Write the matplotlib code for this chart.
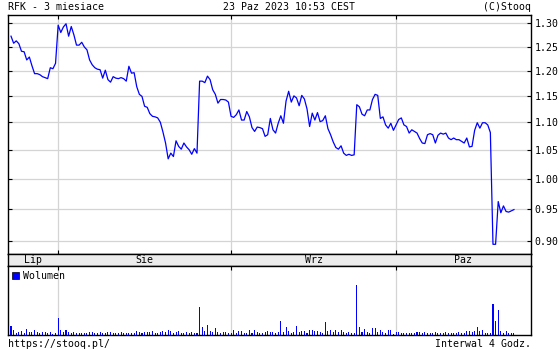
import matplotlib
matplotlib.use('Agg')
import matplotlib.pyplot as plt
import matplotlib.ticker as mtick
from matplotlib.patches import Patch
import numpy as np
import pandas as pd

# RFK, 3 bars per session day (4h interval), 24 Jul - 23 Oct 2023
first_day = '2023-07-24'
last_day = '2023-10-23'
holidays = ['2023-08-15']
bar_hours = [9, 13, 17]

close = [
    1.272, 1.257, 1.262, 1.256, 1.240, 1.239, 1.222, 1.228, 1.210, 1.194,
    1.194, 1.192, 1.188, 1.186, 1.184, 1.206, 1.204, 1.215, 1.296, 1.280,
    1.292, 1.299, 1.272, 1.293, 1.275, 1.253, 1.253, 1.259, 1.249, 1.243,
    1.222, 1.212, 1.206, 1.203, 1.202, 1.185, 1.201, 1.182, 1.177, 1.188,
    1.185, 1.184, 1.186, 1.184, 1.179, 1.209, 1.195, 1.196, 1.168, 1.153,
    1.149, 1.130, 1.128, 1.116, 1.111, 1.110, 1.108, 1.100, 1.082, 1.062,
    1.034, 1.044, 1.038, 1.066, 1.056, 1.051, 1.062, 1.055, 1.050, 1.042,
    1.052, 1.044, 1.179, 1.179, 1.176, 1.189, 1.182, 1.162, 1.153, 1.136,
    1.143, 1.143, 1.142, 1.138, 1.111, 1.109, 1.114, 1.123, 1.104, 1.104,
    1.120, 1.110, 1.090, 1.083, 1.091, 1.090, 1.088, 1.074, 1.077, 1.107,
    1.086, 1.080, 1.098, 1.112, 1.098, 1.140, 1.159, 1.138, 1.150, 1.146,
    1.131, 1.151, 1.144, 1.125, 1.092, 1.117, 1.104, 1.118, 1.101, 1.103,
    1.112, 1.088, 1.077, 1.064, 1.054, 1.051, 1.057, 1.044, 1.040, 1.042,
    1.040, 1.041, 1.133, 1.129, 1.115, 1.112, 1.123, 1.123, 1.143, 1.153,
    1.151, 1.107, 1.110, 1.095, 1.089, 1.098, 1.085, 1.095, 1.105, 1.108,
    1.095, 1.092, 1.080, 1.086, 1.083, 1.080, 1.070, 1.062, 1.061, 1.077,
    1.079, 1.077, 1.062, 1.076, 1.080, 1.078, 1.080, 1.071, 1.068, 1.071,
    1.068, 1.068, 1.065, 1.062, 1.071, 1.055, 1.056, 1.085, 1.099, 1.089,
    1.099, 1.099, 1.095, 1.081, 0.895, 0.895, 0.962, 0.944, 0.955, 0.946,
    0.945, 0.947, 0.949,
]

# volume, thousands
volume = [
    83, 43, 17, 27, 33, 17, 53, 27, 27, 43,
    27, 17, 27, 27, 17, 27, 10, 17, 167, 43,
    27, 43, 27, 17, 27, 17, 17, 17, 17, 17,
    27, 27, 17, 17, 27, 17, 17, 27, 27, 17,
    17, 17, 27, 17, 17, 17, 17, 17, 33, 27,
    17, 27, 27, 27, 37, 17, 17, 27, 37, 27,
    47, 37, 17, 27, 37, 17, 17, 27, 17, 27,
    17, 17, 277, 77, 37, 93, 37, 27, 67, 27,
    17, 27, 27, 17, 17, 43, 17, 37, 37, 17,
    17, 43, 17, 43, 27, 17, 17, 27, 37, 27,
    27, 17, 27, 133, 27, 77, 37, 17, 27, 83,
    27, 37, 37, 17, 50, 43, 37, 37, 27, 17,
    123, 37, 43, 27, 43, 27, 50, 27, 17, 27,
    17, 17, 493, 77, 27, 53, 27, 17, 63, 63,
    27, 43, 27, 17, 43, 43, 10, 27, 27, 17,
    17, 17, 17, 17, 17, 27, 27, 17, 27, 17,
    17, 17, 27, 17, 17, 17, 27, 17, 17, 17,
    17, 27, 17, 17, 37, 33, 27, 37, 77, 37,
    43, 17, 17, 17, 303, 133, 243, 37, 17, 37,
    17, 17, 17,
]

month_names = {7: 'Lip', 8: 'Sie', 9: 'Wrz', 10: 'Paz'}
price_ticks = [0.90, 0.95, 1.00, 1.05, 1.10, 1.15, 1.20, 1.25, 1.30]

days = pd.bdate_range(first_day, last_day)
days = days[~days.isin(pd.to_datetime(holidays))]
sessions = [d + pd.Timedelta(hours=h) for d in days for h in bar_hours][:len(close)]
x = np.arange(len(close))

month_starts = [i for i in range(1, len(sessions)) if sessions[i].month != sessions[i - 1].month]
months = [sessions[0].month] + [sessions[i].month for i in month_starts]

plt.rcParams['font.family'] = ['DejaVu Sans Mono']
plt.rcParams['font.size'] = 7.1

blue = '#0000ff'
grid_c = '#d4d4d4'
W, H = 560, 350
left, right = 8, 530.7
xlim = (-1.15, 198.4)

fig = plt.figure(figsize=(W / 100, H / 100), dpi=100)
ax = fig.add_axes([left / W, 1 - 254.3 / H, (right - left) / W, (254.3 - 15.3) / H])
band = fig.add_axes([left / W, 1 - 266.3 / H, (right - left) / W, 12 / H])
axv = fig.add_axes([left / W, 1 - 334.7 / H, (right - left) / W, (334.7 - 266.3) / H])

# price
ax.plot(x, close, color=blue, lw=0.9)
ax.set_yscale('log')
ax.set_ylim(0.880, 1.3177)
ax.set_xlim(xlim)
ax.yaxis.set_major_locator(mtick.FixedLocator(price_ticks))
ax.yaxis.set_minor_locator(mtick.NullLocator())
ax.yaxis.set_major_formatter(mtick.FormatStrFormatter('%.2f'))
ax.set_xticks(month_starts)
ax.tick_params(axis='y', direction='in', length=3, width=0.8, left=True, right=True,
               labelleft=False, labelright=True, pad=3)
ax.tick_params(axis='x', direction='in', length=3, width=0.8, top=True, bottom=True,
               labelbottom=False)
ax.grid(True, color=grid_c, lw=0.9)
ax.set_axisbelow(True)

# date band
band.set_facecolor('#ececec')
band.set_xlim(xlim)
band.set_ylim(0, 1)
band.set_xticks([])
band.set_yticks([])
edges = [xlim[0]] + month_starts + [xlim[1]]
for j, m in enumerate(months):
    band.text((edges[j] + edges[j + 1]) / 2, 0.5, month_names[m], ha='center', va='center')

# volume
axv.bar(x, volume, width=0.4, color=blue, antialiased=False)
axv.set_xlim(xlim)
axv.set_ylim(0, max(volume) * 1.39)
axv.set_yticks([])
axv.set_xticks(month_starts)
axv.tick_params(axis='x', direction='in', length=3, width=0.8, top=True, bottom=False,
                labelbottom=False)
axv.grid(True, axis='x', color=grid_c, lw=0.9)
axv.set_axisbelow(True)
axv.legend(handles=[Patch(facecolor=blue, edgecolor='black', lw=0.5, label='Wolumen')],
           loc='upper left', frameon=False, handlelength=0.7, handleheight=0.7,
           handletextpad=0.4, borderaxespad=0.25, borderpad=0.2)

for a in (ax, band, axv):
    for s in a.spines.values():
        s.set_linewidth(1.0)
        s.set_color('black')

fig.text(left / W, 1 - 7 / H, 'RFK - 3 miesiace', ha='left', va='center')
fig.text(289 / W, 1 - 7 / H, '23 Paz 2023 10:53 CEST', ha='center', va='center')
fig.text(right / W, 1 - 7 / H, '(C)Stooq', ha='right', va='center')
fig.text(left / W, 1 - 344 / H, 'https://stooq.pl/', ha='left', va='center')
fig.text(right / W, 1 - 344 / H, 'Interwal 4 Godz.', ha='right', va='center')

fig.savefig('out.png', dpi=100)
